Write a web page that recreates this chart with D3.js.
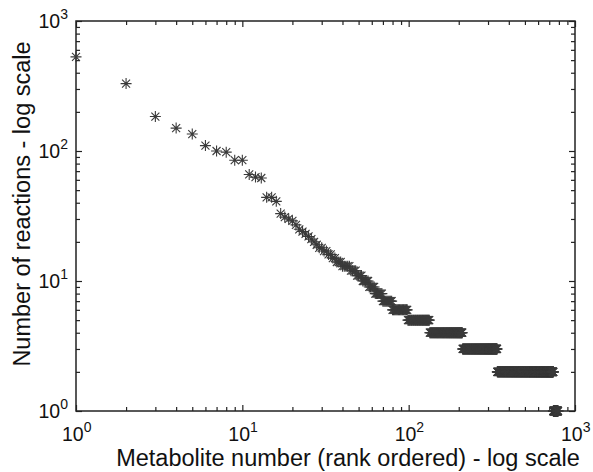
<!DOCTYPE html>
<html>
<head>
<meta charset="utf-8">
<script src="https://cdn.jsdelivr.net/npm/d3@7"></script>
<style>
  body { margin: 0; background: #fff; }
  svg { display: block; font-family: "Liberation Sans", Arial, sans-serif; }
</style>
</head>
<body>
<svg></svg>
<script>
const width = 593;
const height = 472;

// degree of the highest ranked metabolites, one per rank (rank 1..N)
const headDegrees = [530, 330, 184, 150, 135, 110, 100, 98, 85, 85,
                     66, 63, 62, 44, 44, 41, 33, 31, 30, 29,
                     27, 25, 24, 23, 22, 21, 20, 19, 18, 18,
                     17, 17, 16, 16, 15, 15];
// after that, degrees repeat: degree value and how many ranks share it
const runDegrees = [14, 13, 12, 11, 10, 9, 8, 7, 6, 5, 4, 3, 2, 1];
const runLengths = [3, 5, 4, 4, 5, 5, 7, 10, 19, 35, 77, 130, 400, 50];

const decadeTicks = [1, 10, 100, 1000];
const xLabel = "Metabolite number (rank ordered) - log scale";
const yLabel = "Number of reactions - log scale";

// build points (rank, degree)
const points = headDegrees.map((d, i) => ({ rank: i + 1, deg: d }));
runDegrees.forEach((d, i) => {
  for (let k = 0; k < runLengths[i]; k++) {
    points.push({ rank: points.length + 1, deg: d });
  }
});

const margin = { left: 76, right: 18, top: 21, bottom: 61 };

const svg = d3.select("svg")
  .attr("width", width)
  .attr("height", height);

const x = d3.scaleLog().domain([1, 1000]).range([margin.left, width - margin.right]);
const y = d3.scaleLog().domain([1, 1000]).range([height - margin.bottom, margin.top]);

const minorTicks = [];
[1, 10, 100].forEach(b => { for (let m = 2; m <= 9; m++) minorTicks.push(b * m); });

const axisColor = "#222";

function styleAxis(g) {
  g.select(".domain").remove();
  g.selectAll("line").attr("stroke", axisColor).attr("stroke-width", 1.2);
  g.selectAll("text").remove();
}

// minor + major ticks, all pointing inward, on all four sides
const x0 = x.range()[0], x1 = x.range()[1];
const y0 = y.range()[0], y1 = y.range()[1];

svg.append("g").attr("transform", `translate(0,${y0})`)
  .call(d3.axisBottom(x).tickValues(minorTicks).tickSize(-4)).call(styleAxis);
svg.append("g").attr("transform", `translate(0,${y0})`)
  .call(d3.axisBottom(x).tickValues(decadeTicks).tickSize(-6)).call(styleAxis);
svg.append("g").attr("transform", `translate(0,${y1})`)
  .call(d3.axisTop(x).tickValues(minorTicks).tickSize(-4)).call(styleAxis);
svg.append("g").attr("transform", `translate(0,${y1})`)
  .call(d3.axisTop(x).tickValues(decadeTicks).tickSize(-6)).call(styleAxis);
svg.append("g").attr("transform", `translate(${x0},0)`)
  .call(d3.axisLeft(y).tickValues(minorTicks).tickSize(-4)).call(styleAxis);
svg.append("g").attr("transform", `translate(${x0},0)`)
  .call(d3.axisLeft(y).tickValues(decadeTicks).tickSize(-6)).call(styleAxis);
svg.append("g").attr("transform", `translate(${x1},0)`)
  .call(d3.axisRight(y).tickValues(minorTicks).tickSize(-4)).call(styleAxis);
svg.append("g").attr("transform", `translate(${x1},0)`)
  .call(d3.axisRight(y).tickValues(decadeTicks).tickSize(-6)).call(styleAxis);

// box
svg.append("rect")
  .attr("x", x0).attr("y", y1)
  .attr("width", x1 - x0).attr("height", y0 - y1)
  .attr("fill", "none")
  .attr("stroke", axisColor)
  .attr("stroke-width", 1.5);

// tick labels like 10^k
function powerLabel(sel, v) {
  const t = sel.append("text").attr("fill", "#111");
  t.append("tspan").attr("font-size", 19.5).text("10");
  t.append("tspan").attr("font-size", 14).attr("dy", -9).text(Math.round(Math.log10(v)));
  return t;
}

decadeTicks.forEach(v => {
  powerLabel(svg, v)
    .attr("x", x(v) - 14)
    .attr("y", y0 + 30);
  powerLabel(svg, v)
    .attr("x", x0 - 8)
    .attr("y", y(v) + 7)
    .attr("text-anchor", "end");
});

// axis titles
svg.append("text")
  .attr("x", 348)
  .attr("y", 466)
  .attr("text-anchor", "middle")
  .attr("font-size", 23.5)
  .attr("fill", "#111")
  .text(xLabel);

svg.append("text")
  .attr("transform", `translate(30,204) rotate(-90)`)
  .attr("text-anchor", "middle")
  .attr("font-size", 23.5)
  .attr("fill", "#111")
  .text(yLabel);

// asterisk markers
const r = 5.5, a = 4;
const star = `M${-r},0h${2 * r}M0,${-r}v${2 * r}M${-a},${-a}l${2 * a},${2 * a}M${-a},${a}l${2 * a},${-2 * a}`;

svg.append("g")
  .selectAll("path")
  .data(points)
  .enter()
  .append("path")
  .attr("transform", d => `translate(${x(d.rank)},${y(d.deg)})`)
  .attr("d", star)
  .attr("fill", "none")
  .attr("stroke", "#3a3a3a")
  .attr("stroke-width", 1.1);
</script>
</body>
</html>
